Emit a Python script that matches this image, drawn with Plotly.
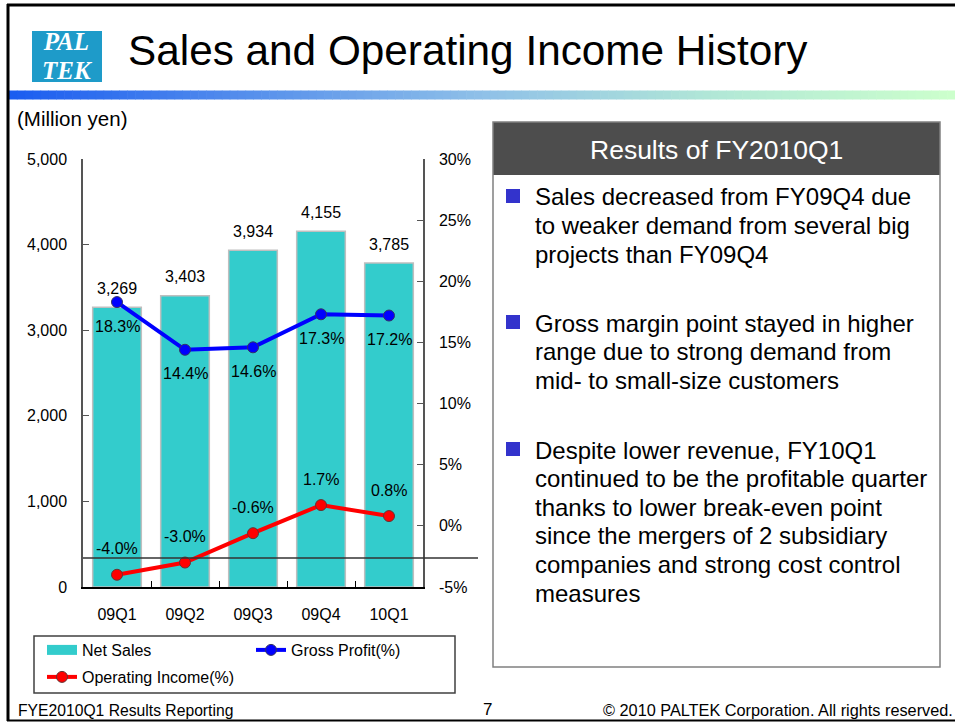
import plotly.graph_objects as go

# ---------------- data ----------------
categories = ["09Q1", "09Q2", "09Q3", "09Q4", "10Q1"]
net_sales = [3269, 3403, 3934, 4155, 3785]
gross_profit_pct = [18.3, 14.4, 14.6, 17.3, 17.2]
operating_income_pct = [-4.0, -3.0, -0.6, 1.7, 0.8]
sales_ticks = [0, 1000, 2000, 3000, 4000, 5000]
pct_ticks = [-5, 0, 5, 10, 15, 20, 25, 30]

title_text = "Sales and Operating Income History"
unit_text = "(Million yen)"
box_title = "Results of FY2010Q1"
bullet_1 = ["Sales decreased from FY09Q4 due",
            "to weaker demand from several big",
            "projects than FY09Q4"]
bullet_2 = ["Gross margin point stayed in higher",
            "range due to strong demand from",
            "mid- to small-size customers"]
bullet_3 = ["Despite lower revenue, FY10Q1",
            "continued to be the profitable quarter",
            "thanks to lower break-even point",
            "since the mergers of 2 subsidiary",
            "companies and strong cost control",
            "measures"]
footer_left = "FYE2010Q1 Results Reporting"
footer_page = "7"
footer_right = "\u00a9 2010 PALTEK Corporation. All rights reserved."

# ---------------- layout helpers ----------------
W, H = 955, 722
FONT = "Liberation Sans, Arial, sans-serif"
BAR_COLOR = "#33CCCC"


def px(x):
    return x / W


def py(y):
    return 1 - y / H


fig = go.Figure()

fig.add_trace(go.Bar(
    x=categories, y=net_sales, name="Net Sales",
    marker=dict(color=BAR_COLOR, line=dict(color="#BFBFBF", width=1.5)),
    showlegend=False,
))
# legend swatch for the bars (wide rectangle like the original legend key)
fig.add_trace(go.Scatter(
    x=[None], y=[None], name="Net Sales", mode="lines",
    line=dict(color=BAR_COLOR, width=11),
    legend="legend", hoverinfo="skip",
))
fig.add_trace(go.Scatter(
    x=categories, y=gross_profit_pct, name="Gross Profit(%)", yaxis="y2",
    mode="lines+markers",
    line=dict(color="#0000FF", width=4),
    marker=dict(size=11, color="#0000FF", line=dict(color="#333366", width=1)),
    legend="legend",
))
fig.add_trace(go.Scatter(
    x=categories, y=operating_income_pct, name="Operating Income(%)", yaxis="y2",
    mode="lines+markers",
    line=dict(color="#FF0000", width=4),
    marker=dict(size=11, color="#FF0000", line=dict(color="#663333", width=1)),
    legend="legend2",
))

annotations = []
label_font = dict(family=FONT, size=16, color="#000000")
for c, v in zip(categories, net_sales):
    annotations.append(dict(x=c, y=v, xref="x", yref="y", text=f"{v:,}",
                            showarrow=False, yanchor="middle", yshift=19,
                            font=label_font))
for c, v in zip(categories, gross_profit_pct):
    annotations.append(dict(x=c, y=v, xref="x", yref="y2", text=f"{v:.1f}%",
                            showarrow=False, yanchor="middle", yshift=-24,
                            font=label_font))
for c, v in zip(categories, operating_income_pct):
    annotations.append(dict(x=c, y=v, xref="x", yref="y2", text=f"{v:.1f}%",
                            showarrow=False, yanchor="middle", yshift=26,
                            font=label_font))

# title, unit, logo text
annotations.append(dict(x=px(126), y=py(50), xref="paper", yref="paper",
                        text=title_text, showarrow=False, xanchor="left",
                        yanchor="middle", font=dict(family=FONT, size=42.3, color="#000000")))
annotations.append(dict(x=px(15), y=py(119), xref="paper", yref="paper",
                        text=unit_text, showarrow=False, xanchor="left",
                        yanchor="middle", font=dict(family=FONT, size=20.5, color="#000000")))
logo_span = '<span style="font-size:25px"><b><i>%s</i></b></span>'
annotations.append(dict(x=px(67), y=py(56), xref="paper", yref="paper",
                        text=(logo_span % "PAL") + "<br>" + (logo_span % "TEK"),
                        showarrow=False, xanchor="center", yanchor="middle",
                        font=dict(family="Liberation Serif, DejaVu Serif, serif",
                                  size=22, color="#FFFFFF")))

# text box
annotations.append(dict(x=px(716), y=py(150), xref="paper", yref="paper",
                        text=box_title, showarrow=False, xanchor="center",
                        yanchor="middle", font=dict(family=FONT, size=26.5, color="#FFFFFF")))
body_font = dict(family=FONT, size=24, color="#000000")
bullet_blocks = [(bullet_1, 197), (bullet_2, 323), (bullet_3, 450)]
LINE_GAP = 28.6
shapes = []
for lines, y0 in bullet_blocks:
    for i, t in enumerate(lines):
        annotations.append(dict(x=px(533), y=py(y0 + i * LINE_GAP), xref="paper", yref="paper",
                                text=t, showarrow=False, xanchor="left", yanchor="middle",
                                font=body_font))
    shapes.append(dict(type="rect", xref="paper", yref="paper",
                       x0=px(506), x1=px(520), y0=py(y0 + 6), y1=py(y0 - 8),
                       fillcolor="#3333CC", line=dict(width=0)))

# footer
foot_font = dict(family=FONT, size=15.7, color="#000000")
annotations.append(dict(x=px(16), y=py(710), xref="paper", yref="paper",
                        text=footer_left, showarrow=False, xanchor="left",
                        yanchor="middle", font=foot_font))
annotations.append(dict(x=px(487), y=py(709), xref="paper", yref="paper",
                        text=footer_page, showarrow=False, xanchor="center",
                        yanchor="middle", font=dict(family=FONT, size=17, color="#000000")))
annotations.append(dict(x=px(955), y=py(710), xref="paper", yref="paper",
                        text=footer_right, showarrow=False, xanchor="right",
                        yanchor="middle", font=dict(family=FONT, size=16.3, color="#000000")))

# ---------------- decorative shapes ----------------
# page border
shapes.append(dict(type="line", xref="paper", yref="paper", x0=px(7), x1=1,
                   y0=py(5), y1=py(5), line=dict(color="#000000", width=3)))
shapes.append(dict(type="line", xref="paper", yref="paper", x0=px(8), x1=px(8),
                   y0=py(4), y1=py(721), line=dict(color="#000000", width=3)))
shapes.append(dict(type="line", xref="paper", yref="paper", x0=px(7), x1=1,
                   y0=py(720.5), y1=py(720.5), line=dict(color="#000000", width=2)))

# gradient rule under the title
stops = [(0.0, (26, 92, 240)), (0.5, (143, 192, 232)), (0.75, (178, 232, 214)), (1.0, (204, 255, 204))]


def grad(t):
    for (t0, c0), (t1, c1) in zip(stops[:-1], stops[1:]):
        if t0 <= t <= t1:
            f = (t - t0) / (t1 - t0)
            return "rgb(%d,%d,%d)" % tuple(round(a + (b - a) * f) for a, b in zip(c0, c1))
    return "rgb(204,255,204)"


gx0, gx1, nseg = 9, 955, 120
for i in range(nseg):
    xa = gx0 + (gx1 - gx0) * i / nseg
    xb = gx0 + (gx1 - gx0) * (i + 1) / nseg + 0.6
    shapes.append(dict(type="rect", xref="paper", yref="paper", layer="below",
                       x0=px(xa), x1=px(min(xb, gx1)), y0=py(99.5), y1=py(90.5),
                       fillcolor=grad((i + 0.5) / nseg), line=dict(width=0)))

# logo box
shapes.append(dict(type="rect", xref="paper", yref="paper", layer="below",
                   x0=px(32), x1=px(102), y0=py(82), y1=py(31),
                   fillcolor="#1E9BC9", line=dict(width=0)))

# result text box
shapes.append(dict(type="rect", xref="paper", yref="paper", layer="below",
                   x0=px(493), x1=px(940), y0=py(175), y1=py(122),
                   fillcolor="#4D4D4D", line=dict(width=0)))
shapes.append(dict(type="rect", xref="paper", yref="paper",
                   x0=px(493), x1=px(940), y0=py(667), y1=py(122),
                   fillcolor="rgba(0,0,0,0)", line=dict(color="#808080", width=1.5)))

# legend frame
shapes.append(dict(type="rect", xref="paper", yref="paper",
                   x0=px(34), x1=px(455), y0=py(693), y1=py(636),
                   fillcolor="rgba(0,0,0,0)", line=dict(color="#404040", width=1.5)))

# stray horizontal rule across the chart
shapes.append(dict(type="line", xref="paper", yref="paper",
                   x0=px(83), x1=px(478), y0=py(558), y1=py(558),
                   line=dict(color="#333333", width=1.5)))

tick_font = dict(family=FONT, size=16, color="#000000")
fig.update_layout(
    width=W, height=H, autosize=False,
    margin=dict(l=0, r=0, t=0, b=0, pad=0, autoexpand=False),
    paper_bgcolor="#FFFFFF", plot_bgcolor="rgba(0,0,0,0)",
    font=dict(family=FONT, size=16, color="#000000"),
    bargap=0.285,
    showlegend=True,
    xaxis=dict(domain=[px(83), px(423)], showline=True, linecolor="#000000", linewidth=2,
               ticks="inside", tickson="boundaries", ticklen=6, tickcolor="#000000",
               tickwidth=1.2, showgrid=False, zeroline=False, tickfont=tick_font,
               ticklabelstandoff=12, fixedrange=True, automargin=False),
    yaxis=dict(domain=[py(587), py(159)], range=[0, 5000], tickvals=sales_ticks,
               ticktext=[f"{v:,}" for v in sales_ticks], showline=True,
               linecolor="#555555", linewidth=1.5, ticks="inside", ticklen=6,
               tickcolor="#555555", showgrid=False, zeroline=False, tickfont=tick_font,
               ticklabelstandoff=11, fixedrange=True, automargin=False),
    yaxis2=dict(overlaying="y", side="right", anchor="x", range=[-5, 30], tickvals=pct_ticks,
                ticktext=[f"{v}%" for v in pct_ticks], showline=True,
                linecolor="#555555", linewidth=1.5, ticks="inside", ticklen=6,
                tickcolor="#555555", showgrid=False, zeroline=False, tickfont=tick_font,
                ticklabelstandoff=11, fixedrange=True, automargin=False),
    legend=dict(orientation="h", x=px(42), xanchor="left", y=py(650), yanchor="middle",
                entrywidth=164, entrywidthmode="pixels", bgcolor="rgba(0,0,0,0)",
                borderwidth=0, font=dict(family=FONT, size=16, color="#000000"),
                traceorder="normal"),
    legend2=dict(orientation="h", x=px(42), xanchor="left", y=py(677), yanchor="middle",
                 bgcolor="rgba(0,0,0,0)", borderwidth=0,
                 font=dict(family=FONT, size=16, color="#000000")),
    annotations=annotations,
    shapes=shapes,
)

fig.write_html("out.html", config={"displayModeBar": False},
               post_script="document.body.style.margin='0';document.body.style.overflow='hidden';")
